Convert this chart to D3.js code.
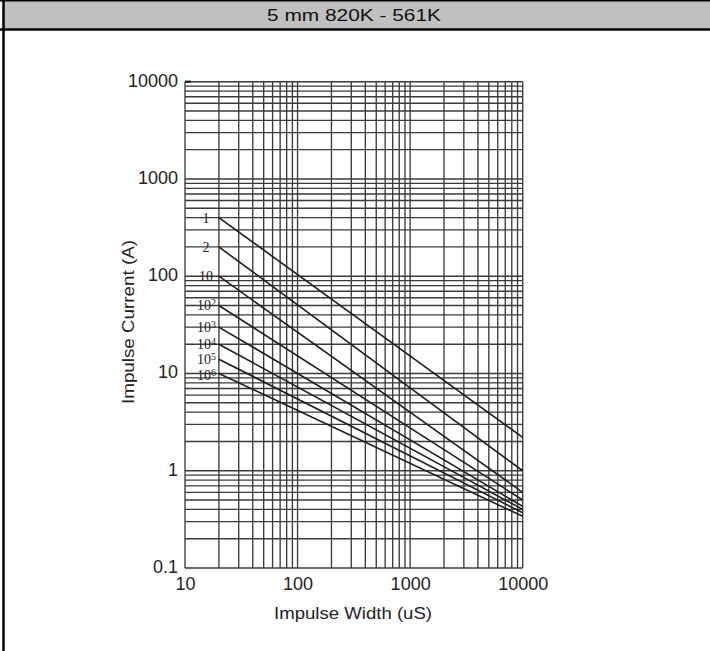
<!DOCTYPE html>
<html>
<head>
<meta charset="utf-8">
<script src="https://cdn.jsdelivr.net/npm/d3@7"></script>
<style>
  html, body { margin: 0; padding: 0; background: #fff; }
  svg { display: block; }
</style>
</head>
<body>
<svg id="chart" width="710" height="651"></svg>
<script>
// Pulse rating curves: impulse current vs. impulse width, per number of repetitions
const titleText = "5 mm 820K - 561K";
const xTickValues = [10, 100, 1000, 10000];
const yTickValues = [0.1, 1, 10, 100, 1000, 10000];
const xTickLabels = ["10", "100", "1000", "10000"];
const yTickLabels = ["0.1", "1", "10", "100", "1000", "10000"];

// repetition count labels: base text and optional exponent
const curveBase = ["1", "2", "10", "10", "10", "10", "10", "10"];
const curveExp  = ["",  "",  "",   "2",  "3",  "4",  "5",  "6"];
// impulse width (uS) at each end of the curves
const widthPoints = [20, 10000];
// impulse current (A) at those widths, one pair per curve
const currentAt20    = [400, 200, 100, 50, 30, 20, 14, 10];
const currentAt10000 = [2.2, 1.0, 0.6, 0.5, 0.43, 0.4, 0.37, 0.34];

const svg = d3.select("#chart");
const W = 710, H = 651;
const sans = "Liberation Sans, Arial, sans-serif";

// frame: grey header band and left rule
svg.append("rect").attr("x", 3).attr("y", 0).attr("width", W - 3).attr("height", 29)
  .attr("fill", "#c0c0c0");
svg.append("line").attr("x1", 0).attr("x2", W).attr("y1", 0.75).attr("y2", 0.75)
  .attr("stroke", "#000").attr("stroke-width", 1.5);
svg.append("line").attr("x1", 0).attr("x2", W).attr("y1", 29.5).attr("y2", 29.5)
  .attr("stroke", "#000").attr("stroke-width", 2.5);
svg.append("line").attr("x1", 3.5).attr("x2", 3.5).attr("y1", 0).attr("y2", H)
  .attr("stroke", "#000").attr("stroke-width", 2.5);
svg.append("text").attr("x", 354).attr("y", 20.5).attr("text-anchor", "middle")
  .attr("font-family", sans).attr("font-size", 17)
  .attr("textLength", 174).attr("lengthAdjust", "spacingAndGlyphs")
  .attr("fill", "#111").text(titleText);

// scales
const x = d3.scaleLog().domain([10, 10000]).range([185, 522.7]);
const y = d3.scaleLog().domain([0.1, 10000]).range([568, 81.7]);

// log grid values (1..9 per decade)
function logGrid(lo, hi) {
  const out = [];
  for (let d = lo; d < hi; d *= 10) for (let k = 1; k < 10; k++) out.push(k * d);
  out.push(hi);
  return out;
}
const gx = logGrid(10, 10000);
const gy = logGrid(0.1, 10000);

const grid = svg.append("g").attr("stroke", "#3a3a3a").attr("stroke-width", 1.35);
grid.selectAll("line.v").data(gx).join("line").attr("class", "v")
  .attr("x1", d => x(d)).attr("x2", d => x(d))
  .attr("y1", y(10000)).attr("y2", y(0.1));
grid.selectAll("line.h").data(gy).join("line").attr("class", "h")
  .attr("x1", x(10)).attr("x2", x(10000))
  .attr("y1", d => y(d)).attr("y2", d => y(d));
// short mark at the top-left corner
svg.append("line").attr("x1", x(10)).attr("x2", x(10) + 6)
  .attr("y1", y(10000)).attr("y2", y(10000))
  .attr("stroke", "#222").attr("stroke-width", 2.2);

// axes (tick labels only)
const xAxis = d3.axisBottom(x).tickValues(xTickValues)
  .tickFormat((d, i) => xTickLabels[i]).tickSize(0).tickPadding(9);
const yAxis = d3.axisLeft(y).tickValues(yTickValues)
  .tickFormat((d, i) => yTickLabels[i]).tickSize(0).tickPadding(7);
const gxA = svg.append("g").attr("transform", `translate(0,${y(0.1)})`).call(xAxis);
const gyA = svg.append("g").attr("transform", `translate(${x(10)},0)`).call(yAxis);
[gxA, gyA].forEach(g => {
  g.select(".domain").remove();
  g.selectAll("text").attr("font-family", sans)
    .attr("font-size", 18).attr("fill", "#222");
});
gyA.selectAll("text").attr("dy", "0.25em");

// axis titles
svg.append("text").attr("x", 353).attr("y", 619).attr("text-anchor", "middle")
  .attr("font-family", sans).attr("font-size", 16.5)
  .attr("textLength", 158).attr("lengthAdjust", "spacingAndGlyphs")
  .attr("fill", "#222").text("Impulse Width (uS)");
svg.append("text").attr("transform", "translate(134,322) rotate(-90)")
  .attr("text-anchor", "middle")
  .attr("font-family", sans).attr("font-size", 16.5)
  .attr("textLength", 164).attr("lengthAdjust", "spacingAndGlyphs")
  .attr("fill", "#222").text("Impulse Current (A)");

// curves
const curves = curveBase.map((b, i) => ({
  base: b, exp: curveExp[i],
  pts: [[widthPoints[0], currentAt20[i]], [widthPoints[1], currentAt10000[i]]]
}));
const line = d3.line().x(d => x(d[0])).y(d => y(d[1]));
svg.append("g").selectAll("path").data(curves).join("path")
  .attr("d", d => line(d.pts)).attr("fill", "none")
  .attr("stroke", "#1e1e1e").attr("stroke-width", 1.6);

// curve labels
const lbl = svg.append("g").attr("font-family", "Liberation Serif, Times New Roman, serif")
  .attr("font-size", 14).attr("fill", "#222");
curves.forEach((c, i) => {
  const x0 = x(c.pts[0][0]);
  const y0 = y(c.pts[0][1]);
  // the lowest label sits a touch below its line start to clear the one above
  const t = lbl.append("text").attr("y", y0 + (i === curves.length - 1 ? 2 : 0)).attr("dy", "0.35em");
  if (c.exp) {
    t.attr("x", x0 - 3).attr("text-anchor", "end");
    t.append("tspan").text(c.base);
    t.append("tspan").attr("font-size", 10).attr("dy", "-0.4em").text(c.exp);
  } else {
    t.attr("x", x0 - 13).attr("text-anchor", "middle").text(c.base);
  }
});
</script>
</body>
</html>
